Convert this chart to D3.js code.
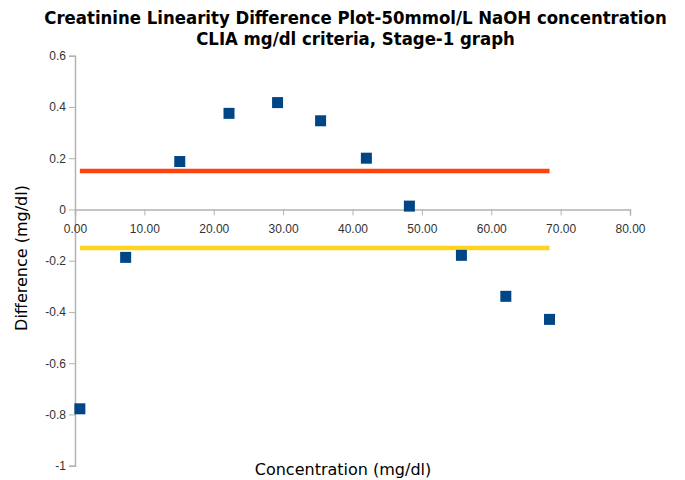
<!DOCTYPE html>
<html><head><meta charset="utf-8">
<script src="https://cdn.jsdelivr.net/npm/d3@7"></script>
<style>body{margin:0;background:#fff}</style>
</head><body>
<svg id="c" width="685" height="480"></svg>
<script>
const titleLines = ["Creatinine Linearity Difference Plot-50mmol/L NaOH concentration", "CLIA mg/dl criteria, Stage-1 graph"];
const xTitle = "Concentration (mg/dl)";
const yTitle = "Difference (mg/dl)";
const concentration = [0.7, 7.3, 15.1, 22.2, 29.2, 35.4, 42.0, 48.2, 55.7, 62.1, 68.4];
const difference = [-0.778, -0.187, 0.187, 0.375, 0.417, 0.346, 0.2, 0.013, -0.179, -0.339, -0.429];
const upperLimit = 0.15;
const lowerLimit = -0.15;
const xTicks = [0, 10, 20, 30, 40, 50, 60, 70, 80];
const yTicks = [0.6, 0.4, 0.2, 0, -0.2, -0.4, -0.6, -0.8, -1];

const svg = d3.select("#c");
const x = d3.scaleLinear().domain([0, 80]).range([75, 630]);
const y = d3.scaleLinear().domain([-1, 0.6]).range([465.7, 55.7]);
const font = "'Liberation Sans', Arial, sans-serif";
const titleFont = "'DejaVu Sans', Verdana, sans-serif";

// title
svg.append("g").selectAll("text").data(titleLines).join("text")
  .attr("x", 355.5).attr("y", (d, i) => 24 + i * 21)
  .attr("text-anchor", "middle")
  .attr("font-family", "'DejaVu Sans Condensed', 'DejaVu Sans', sans-serif")
  .attr("font-stretch", "condensed")
  .attr("font-weight", "bold").attr("font-size", 18.4).attr("fill", "#000")
  .text(d => d);

// y axis
const yAxis = svg.append("g").attr("transform", `translate(${x(0)},0)`)
  .call(d3.axisLeft(y).tickValues(yTicks).tickSize(6).tickPadding(3)
    .tickFormat(d => String(d).replace("\u2212", "-")));
yAxis.select(".domain").attr("stroke", "#b3b3b3").attr("stroke-width", 1.5);
yAxis.selectAll(".tick line").attr("stroke", "#b3b3b3");
yAxis.selectAll("text").attr("font-family", font).attr("font-size", 12).attr("fill", "#333");

// x axis at y = 0
const xAxis = svg.append("g").attr("transform", `translate(0,${y(0)})`)
  .call(d3.axisBottom(x).tickValues(xTicks).tickSize(6).tickPadding(9).tickFormat(d => d.toFixed(2)));
xAxis.select(".domain").attr("stroke", "#b3b3b3").attr("stroke-width", 1.5);
xAxis.selectAll(".tick line").attr("stroke", "#b3b3b3");
xAxis.selectAll("text").attr("font-family", font).attr("font-size", 12).attr("fill", "#333");

// limit lines
const x0 = d3.min(concentration), x1 = d3.max(concentration);
svg.append("line").attr("x1", x(x0)).attr("x2", x(x1)).attr("y1", y(upperLimit)).attr("y2", y(upperLimit))
  .attr("stroke", "#ff420e").attr("stroke-width", 4.5);
svg.append("line").attr("x1", x(x0)).attr("x2", x(x1)).attr("y1", y(lowerLimit)).attr("y2", y(lowerLimit))
  .attr("stroke", "#ffd320").attr("stroke-width", 4.5);

// points
const s = 11;
svg.append("g").selectAll("rect").data(concentration).join("rect")
  .attr("x", d => x(d) - s / 2)
  .attr("y", (d, i) => y(difference[i]) - s / 2)
  .attr("width", s).attr("height", s)
  .attr("fill", "#004586");

// axis titles
svg.append("text").attr("x", 343).attr("y", 475).attr("text-anchor", "middle")
  .attr("font-family", titleFont).attr("font-size", 16).attr("fill", "#000").text(xTitle);
svg.append("text").attr("transform", "translate(27,258) rotate(-90)").attr("text-anchor", "middle")
  .attr("font-family", titleFont).attr("font-size", 16).attr("fill", "#000").text(yTitle);
</script>
</body></html>
